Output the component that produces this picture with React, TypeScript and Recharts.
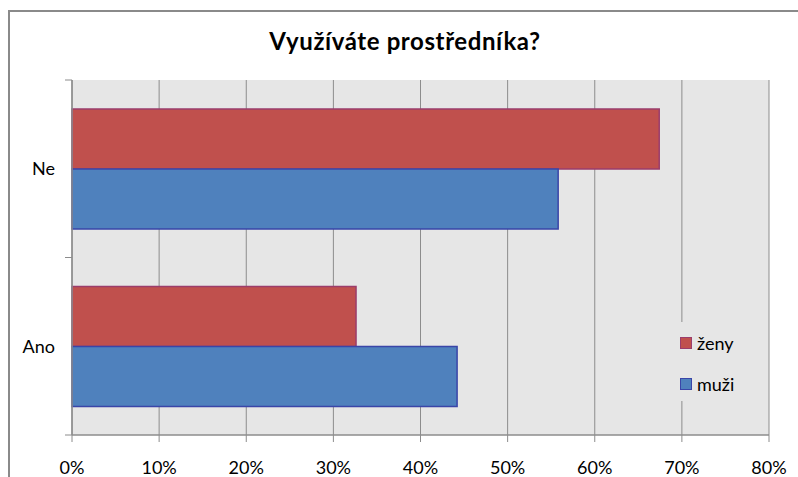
import { BarChart, Bar, XAxis, YAxis, CartesianGrid, Legend } from "recharts";

// odpovědi (kategorie), shora dolů
const categories = ["Ne", "Ano"];
// podíly v %
const zeny = [67.4, 32.6];
const muzi = [55.8, 44.2];
const xTicks = [0, 10, 20, 30, 40, 50, 60, 70, 80];

const data = categories.map((c, i) => ({ name: c, zeny: zeny[i], muzi: muzi[i] }));

const FONT = "Lato, 'Open Sans', sans-serif";
const GRID = "#8c8c8c";

const LegendBox = () => (
  <div style={{ fontFamily: FONT, fontSize: 18, color: "#000" }}>
    {[
      { label: "ženy", fill: "#C0504D", stroke: "#9B3D6B" },
      { label: "muži", fill: "#4F81BD", stroke: "#3A45A8" },
    ].map((it) => (
      <div key={it.label} style={{ display: "flex", alignItems: "center", height: 41 }}>
        <span
          style={{
            display: "inline-block",
            width: 10,
            height: 10,
            background: it.fill,
            border: `1.5px solid ${it.stroke}`,
            marginRight: 5,
          }}
        />
        {it.label}
      </div>
    ))}
  </div>
);

// popisek kategorie + čárky ticku na hranicích pásma (jako v Excelu)
const CatTick = (props: any) => {
  const { x, y, payload } = props;
  const half = payload?.offset ?? 0;
  const ax = x + 17; // poloha osy
  return (
    <g>
      <text
        x={x}
        y={y}
        dy="0.36em"
        textAnchor="end"
        fill="#000"
        fontSize={18}
        fontFamily={FONT}
      >
        {payload.value}
      </text>
      {half > 0 && (
        <>
          <line x1={ax - 7} x2={ax} y1={y - half} y2={y - half} stroke={GRID} />
          <line x1={ax - 7} x2={ax} y1={y + half} y2={y + half} stroke={GRID} />
        </>
      )}
    </g>
  );
};

export default function App() {
  return (
    <div
      style={{
        position: "absolute",
        left: 0,
        top: 0,
        width: 798,
        height: 477,
        overflow: "hidden",
        background: "#fff",
      }}
    >
      <div
        style={{
          position: "absolute",
          left: 8,
          top: 10,
          width: 900,
          height: 600,
          border: "2px solid #8a8a8a",
        }}
      />
      <div
        style={{
          position: "absolute",
          left: 5,
          width: 800,
          top: 26,
          textAlign: "center",
          fontFamily: FONT,
          fontWeight: 700,
          fontSize: 24,
          letterSpacing: 0.6,
          color: "#000",
        }}
      >
        Využíváte prostředníka?
      </div>
      <div style={{ position: "absolute", left: 0, top: 0 }}>
        <BarChart
          width={798}
          height={477}
          data={data}
          layout="vertical"
          margin={{ top: 80, right: 29, bottom: 0, left: 0 }}
          barCategoryGap={29}
          barGap={0}
        >
          <CartesianGrid horizontal={false} stroke={GRID} fill="#E6E6E6" />
          <YAxis
            type="category"
            dataKey="name"
            width={72}
            axisLine={{ stroke: GRID, strokeWidth: 1.5 }}
            tickLine={false}
            tickMargin={11}
            tick={<CatTick />}
          />
          <XAxis
            type="number"
            domain={[0, 80]}
            ticks={xTicks}
            height={42}
            interval={0}
            tickFormatter={(v: number) => `${v}%`}
            axisLine={{ stroke: GRID, strokeWidth: 1.5 }}
            tickLine={{ stroke: GRID }}
            tickSize={7}
            tickMargin={19}
            tick={{ fill: "#000", fontSize: 18, fontFamily: FONT }}
          />
          <Legend
            layout="horizontal"
            verticalAlign="middle"
            align="center"
            content={<LegendBox />}
            wrapperStyle={{
              position: "absolute",
              left: 680,
              top: 322,
              width: 88,
              height: 79,
              background: "#E6E6E6",
            }}
          />
          <Bar
            dataKey="zeny"
            name="ženy"
            fill="#C0504D"
            stroke="#9B3D6B"
            strokeWidth={1.5}
            isAnimationActive={false}
          />
          <Bar
            dataKey="muzi"
            name="muži"
            fill="#4F81BD"
            stroke="#3A45A8"
            strokeWidth={1.5}
            isAnimationActive={false}
          />
        </BarChart>
      </div>
    </div>
  );
}
